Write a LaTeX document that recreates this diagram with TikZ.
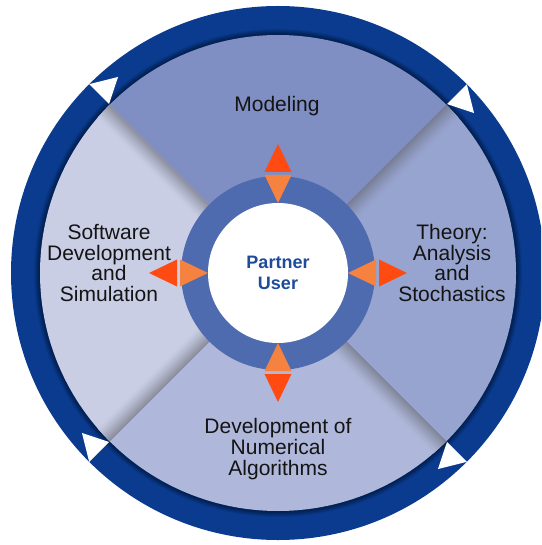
\documentclass[tikz,border=0pt]{standalone}
\usepackage{fontspec}
\setmainfont{Liberation Sans}
\begin{document}
\begin{tikzpicture}[x=1pt,y=1pt,
  lab/.style={font=\fontsize{21}{20.7}\selectfont, text=textdark, align=center, inner sep=0pt},
  hub/.style={font=\bfseries\fontsize{18}{20.7}\selectfont, text=hubtext, align=center, inner sep=0pt},
  pointer/.style={fill=white},
  outtip/.style={fill=orangedark},
  intip/.style={fill=orangelight}]
\definecolor{ringdark}{HTML}{0B3B8F}
\definecolor{qtop}{HTML}{7F8EC3}
\definecolor{qright}{HTML}{97A4CF}
\definecolor{qbottom}{HTML}{AFB8DA}
\definecolor{qleft}{HTML}{C9CEE5}
\definecolor{hubring}{HTML}{4F6BB0}
\definecolor{orangedark}{HTML}{FF4A12}
\definecolor{orangelight}{HTML}{F6823F}
\definecolor{shadowgray}{HTML}{62646F}
\definecolor{textdark}{HTML}{141414}
\definecolor{hubtext}{HTML}{1F4B9B}
\def\Rout{267}
\def\Rin{238}
\useasboundingbox (0,0) rectangle (541,-545);
\clip (0,0) rectangle (541,-545);
\fill[white] (0,0) rectangle (541,-545);
\coordinate (C) at (278,-273);

\begin{scope}[shift={(C)}]
  % outer cycle ring
  \fill[ringdark] (0,0) circle (\Rout);
  \foreach \k in {1,...,10}
    \draw[black, opacity=0.05, line width=1.2*\k pt] (0,0) circle (\Rin);

  % four sectors
  \fill[qtop]    (0,0) -- (45:\Rin)  arc[start angle=45,  end angle=135, radius=\Rin] -- cycle;
  \fill[qleft]   (0,0) -- (135:\Rin) arc[start angle=135, end angle=225, radius=\Rin] -- cycle;
  \fill[qbottom] (0,0) -- (225:\Rin) arc[start angle=225, end angle=315, radius=\Rin] -- cycle;
  \fill[qright]  (0,0) -- (-45:\Rin) arc[start angle=-45, end angle=45,  radius=\Rin] -- cycle;

  % soft shadows along the sector borders
  \begin{scope}
    \clip (0,0) circle (\Rin);
    \foreach \th/\s/\qc in {135/1/qleft, 45/-1/qright, -45/-1/qbottom, 225/-1/qleft} {
      \begin{scope}[rotate=\th]
        \foreach \k in {0,...,17} {
          \pgfmathtruncatemacro\p{62*(1-\k/18)^1.3}
          \fill[shadowgray!\p!\qc] (0,\s*\k) rectangle (\Rin+5,\s*\k+\s*1.4);
        }
      \end{scope}
    }
  \end{scope}

  % direction pointers on the outer ring (clockwise)
  \foreach \a in {45,135,225,315}
    \fill[pointer] (\a:239) -- (\a:267) -- (\a-5.8:253) -- cycle;

  % central hub
  \fill[hubring] (0,0) circle (97);
  \fill[white] (0,0) circle (70);

  % orange double pointers
  \foreach \phi in {0,90,180,270} {
    \begin{scope}[rotate=\phi]
      \fill[outtip] (101,-13.5) -- (129,0) -- (101,13.5) -- cycle;
      \fill[intip] (98,-13.5) -- (70,0) -- (98,13.5) -- cycle;
    \end{scope}
  }
\end{scope}

\node[hub] (user) at (278,-273) {Partner\\User};
\node[lab] (modeling) at (277,-106) {Modeling};
\node[lab] (software) at (109,-263) {Software\\Development\\and\\Simulation};
\node[lab] (theory) at (452,-263) {Theory:\\Analysis\\and\\Stochastics};
\node[lab] (numerics) at (278,-449) {Development of\\Numerical\\Algorithms};
\end{tikzpicture}
\end{document}
